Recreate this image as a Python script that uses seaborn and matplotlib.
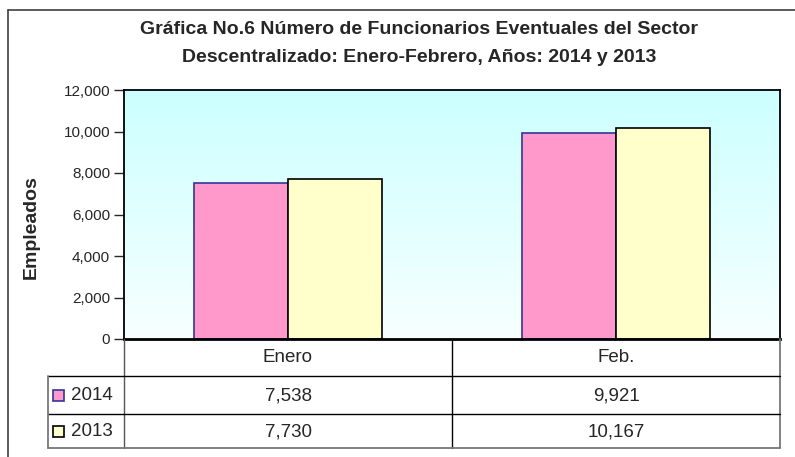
import pandas as pd
import matplotlib.pyplot as plt
import seaborn as sns
import numpy as np
from matplotlib.lines import Line2D
from matplotlib.patches import Rectangle

# data
months = ['Enero', 'Feb.']
years = ['2014', '2013']
vals_2014 = [7538, 9921]
vals_2013 = [7730, 10167]
yticks = [0, 2000, 4000, 6000, 8000, 10000, 12000]

df = pd.DataFrame({
    'mes': months * 2,
    'anio': [years[0]] * 2 + [years[1]] * 2,
    'empleados': vals_2014 + vals_2013,
})

sns.set_style('white')
plt.rcParams['font.family'] = ['Liberation Sans', 'DejaVu Sans']

W, H = 795, 457
fig = plt.figure(figsize=(W / 100, H / 100), dpi=100)


def fx(x):
    return x / W


def fy(y):
    return 1 - y / H


# plot area in pixel coords of the reference
L, R, T, B = 124, 780, 90, 339
ax = fig.add_axes([fx(L), fy(B), fx(R) - fx(L), fy(T) - fy(B)])

fills = {'2014': '#FF99CC', '2013': '#FFFFCC'}
edges = {'2014': '#333399', '2013': '#000000'}

sns.barplot(data=df, x='mes', y='empleados', hue='anio', hue_order=years,
            order=months, palette=fills, saturation=1, width=0.573, gap=0,
            legend=False, ax=ax)
for yr, cont in zip(years, ax.containers):
    for p in cont:
        p.set_edgecolor(edges[yr])
        p.set_linewidth(1.2)

ax.set_ylim(0, 12000)
ax.set_xlim(-0.5, 1.5)

# gradient background: light cyan at top fading to near white
grad = np.linspace(0, 1, 256).reshape(256, 1, 1)
top = np.array([0.80, 1.0, 1.0])
bot = np.array([0.97, 1.0, 1.0])
img = bot + (top - bot) * grad
ax.imshow(img, extent=[-0.5, 1.5, 0, 12000], origin='lower', aspect='auto', zorder=0)

ax.set_yticks(yticks)
ax.set_yticklabels([f'{v:,}' for v in yticks], fontsize=11)
ax.tick_params(axis='y', left=True, length=7, width=1, direction='out', pad=3)
ax.set_xticks([])
ax.set_xlabel('')
ax.set_ylabel('')
for s in ax.spines.values():
    s.set_color('black')
    s.set_linewidth(1.3)
ax.spines['bottom'].set_linewidth(2)

# titles
fig.text(fx(419), fy(30), 'Gráfica No.6 Número de Funcionarios Eventuales del Sector',
         ha='center', va='center', fontsize=14, fontweight='bold')
fig.text(fx(419), fy(57), 'Descentralizado: Enero-Febrero, Años: 2014 y 2013',
         ha='center', va='center', fontsize=14, fontweight='bold')
fig.text(fx(31), fy(227), 'Empleados', rotation=90, ha='center', va='center',
         fontsize=14, fontweight='bold')


def line(x0, y0, x1, y1, color='black', lw=1.0):
    fig.add_artist(Line2D([fx(x0), fx(x1)], [fy(y0), fy(y1)], color=color, lw=lw))


# outer chart frame
line(8, 10, 795, 10, color='#404040', lw=1.2)
line(8, 10, 8, 457, color='#404040', lw=1.2)

# data table under the plot
line(L, B, L, 448, color='#555555')
line(452, B, 452, 448)
line(R, B, R, 448, color='#777777', lw=1.3)
line(48, 376, R, 376)
line(48, 414, R, 414)
line(48, 448, R, 448, color='#777777', lw=1.3)
line(48, 376, 48, 448, color='#777777', lw=1.3)

col_x = [288, 616]
for m, cx in zip(months, col_x):
    fig.text(fx(cx), fy(357), m, ha='center', va='center', fontsize=13.5)

row_y = [396, 432]
for yr, ry, vals in zip(years, row_y, [vals_2014, vals_2013]):
    fig.add_artist(Rectangle((fx(53), fy(ry + 5)), fx(11), 11 / H,
                             facecolor=fills[yr], edgecolor=edges[yr], lw=1.2,
                             transform=fig.transFigure))
    fig.text(fx(71), fy(ry), yr, ha='left', va='center', fontsize=13.5)
    for v, cx in zip(vals, col_x):
        fig.text(fx(cx), fy(ry), f'{v:,}', ha='center', va='center', fontsize=13.5)

fig.savefig('out.png', dpi=100)
